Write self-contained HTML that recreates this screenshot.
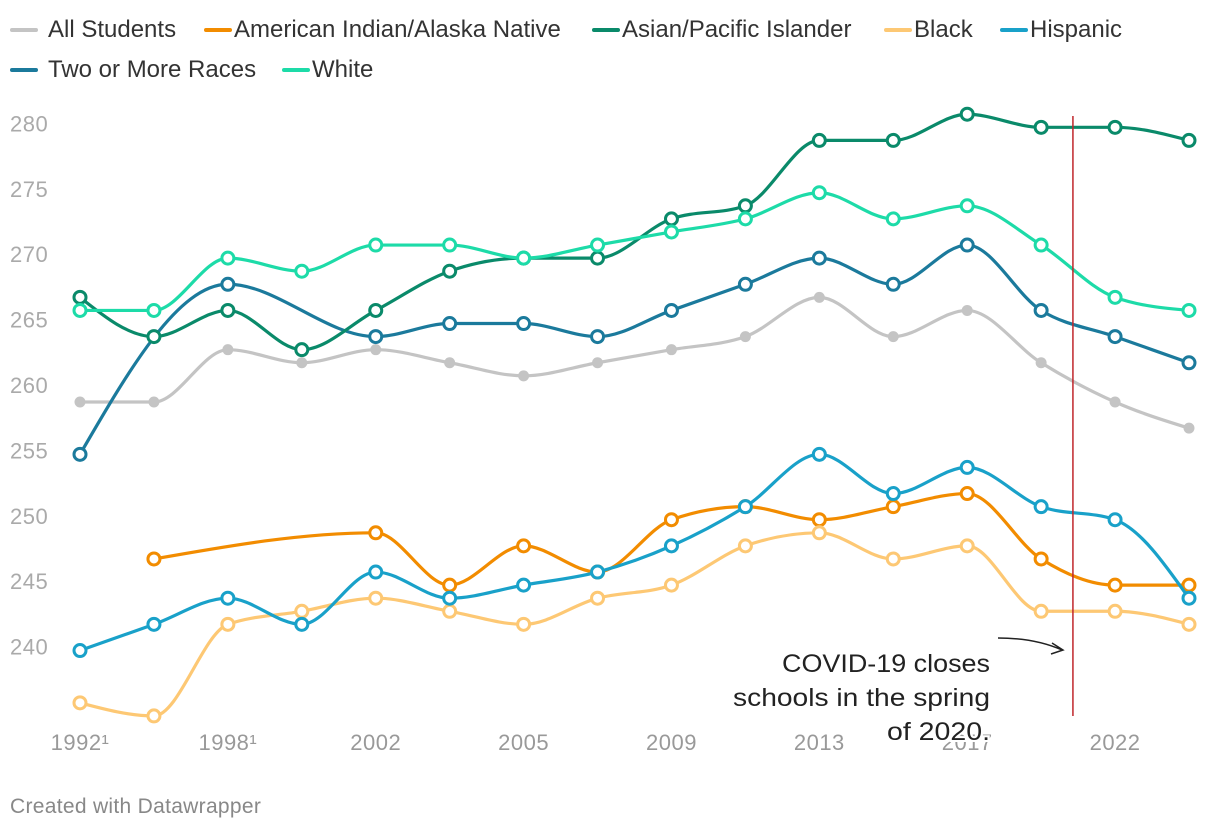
<!DOCTYPE html>
<html><head><meta charset="utf-8"><style>
body{margin:0;background:#fff;font-family:"Liberation Sans",sans-serif;}
#wrap{position:relative;width:1220px;height:832px;overflow:hidden}
.leg{position:absolute;font-size:24px;color:#333;white-space:nowrap}
.sw{position:absolute;height:4px;width:28px;border-radius:2px}
</style></head><body>
<div id="wrap">
<svg id="chart" width="1220" height="832" style="position:absolute;left:0;top:0"></svg>
<div style="position:absolute;left:10px;top:795px;font-size:21px;color:#888;letter-spacing:0.3px">Created with Datawrapper</div>
</div>
<script>
const categories=["1992¹","1994¹","1998¹","1998","2002","2003","2005","2007","2009","2011","2013","2015","2017","2019","2022","2024"];
const xTickLabels=["1992¹","1998¹","2002","2005","2009","2013","2017","2022"];
const yTicks=[240,245,250,255,260,265,270,275,280];
const seriesNames=["All Students","American Indian/Alaska Native","Asian/Pacific Islander","Black","Hispanic","Two or More Races","White"];
const allStudents=[260,260,264,263,264,263,262,263,264,265,268,265,267,263,260,258];
const aian=[null,248,null,null,250,246,249,247,251,252,251,252,253,248,246,246];
const asian=[268,265,267,264,267,270,271,271,274,275,280,280,282,281,281,280];
const black=[237,236,243,244,245,244,243,245,246,249,250,248,249,244,244,243];
const hispanic=[241,243,245,243,247,245,246,247,249,252,256,253,255,252,251,245];
const twoOrMore=[256,null,269,null,265,266,266,265,267,269,271,269,272,267,265,263];
const white=[267,267,271,270,272,272,271,272,273,274,276,274,275,272,268,267];
const colors=["#c4c4c4","#f28c00","#0a8a6a","#fdc874","#19a1c9","#1b7a9c","#1ddba8"];
const data=[allStudents,aian,asian,black,hispanic,twoOrMore,white];
const covidIndex=13.43;

const svg=document.getElementById('chart');
const NS="http://www.w3.org/2000/svg";
const x=i=>80+i*(1189-80)/(categories.length-1);
const y=v=>663.6-(v-240)*13.08;
function mk(t,a,p){const e=document.createElementNS(NS,t);for(const k in a)e.setAttribute(k,a[k]);(p||svg).appendChild(e);return e;}
yTicks.forEach(v=>{const t=mk('text',{x:10,y:y(v)-9,'font-size':22,fill:'#aaa','font-family':'Liberation Sans, sans-serif','letter-spacing':'0.5'});t.textContent=v;

});
categories.forEach((c,i)=>{if(i%2)return;const t=mk('text',{x:x(i),y:750,'font-size':22,fill:'#999','text-anchor':'middle','font-family':'Liberation Sans, sans-serif','letter-spacing':'0.5'});t.textContent=xTickLabels[i/2];

});
function monoPath(pts){
 const n=pts.length;if(n<2)return '';
 const dx=[],m=[],t=[];
 for(let i=0;i<n-1;i++){dx[i]=pts[i+1][0]-pts[i][0];m[i]=(pts[i+1][1]-pts[i][1])/dx[i];}
 t[0]=m[0];t[n-1]=m[n-2];
 for(let i=1;i<n-1;i++){if(m[i-1]*m[i]<=0)t[i]=0;else{const h0=dx[i-1],h1=dx[i];const p=(m[i-1]*h1+m[i]*h0)/(h0+h1);t[i]=(Math.sign(m[i-1])+Math.sign(m[i]))*Math.min(Math.abs(m[i-1]),Math.abs(m[i]),0.5*Math.abs(p));}}
 if(n>2){t[0]=(3*m[0]-t[1])/2;t[n-1]=(3*m[n-2]-t[n-2])/2; if(m[0]*t[0]<=0)t[0]=0; if(m[n-2]*t[n-1]<=0)t[n-1]=0;}
 let d=`M${pts[0][0]},${pts[0][1]}`;
 for(let i=0;i<n-1;i++){const h=dx[i]/3;d+=`C${pts[i][0]+h},${pts[i][1]+t[i]*h} ${pts[i+1][0]-h},${pts[i+1][1]-t[i+1]*h} ${pts[i+1][0]},${pts[i+1][1]}`;}
 return d;}
const order=[0,1,3,4,5,2,6];
order.forEach(s=>{
 const pts=[];data[s].forEach((v,i)=>{if(v!==null)pts.push([x(i),y(v)]);});
 const p=mk('path',{d:monoPath(pts),fill:'none',stroke:colors[s],'stroke-width':3.2});
 
 
 pts.forEach(pt=>{
  const c=s===0?mk('circle',{cx:pt[0],cy:pt[1],r:5.5,fill:colors[s]}):mk('circle',{cx:pt[0],cy:pt[1],r:6,fill:'#fff',stroke:colors[s],'stroke-width':3});
  
  
 });
});
const rl=mk('line',{x1:x(covidIndex),x2:x(covidIndex),y1:116,y2:716,stroke:'#c0262c','stroke-width':1.5});


const ar=mk('path',{d:'M998,638 Q1035,638 1062,650 M1052,643 L1063,650 L1051,654',fill:'none',stroke:'#222','stroke-width':1.5});


const annW=[208,257,103];
["COVID-19 closes","schools in the spring","of 2020."].forEach((s,i)=>{const t=mk('text',{x:990,y:672+i*34,'font-size':25,fill:'#222','text-anchor':'end','font-family':'Liberation Sans, sans-serif',stroke:'#fff','stroke-width':4,'paint-order':'stroke',textLength:annW[i],lengthAdjust:'spacingAndGlyphs'});t.textContent=s;

});
const legPos=[[10,48,30],[204,234,30],[592,622,30],[884,914,30],[1000,1030,30],[10,48,70],[282,312,70]];
const wrap=document.getElementById('wrap');
seriesNames.forEach((n,i)=>{
 const sw=document.createElement('div');sw.className='sw';sw.style.left=legPos[i][0]+'px';sw.style.top=(legPos[i][2]-2)+'px';sw.style.background=colors[i];
 
 
 wrap.appendChild(sw);
 const t=document.createElement('div');t.className='leg';t.style.left=legPos[i][1]+'px';t.style.top=(legPos[i][2]-14)+'px';t.textContent=n;
 
 
 wrap.appendChild(t);
});
</script>
</body></html>
